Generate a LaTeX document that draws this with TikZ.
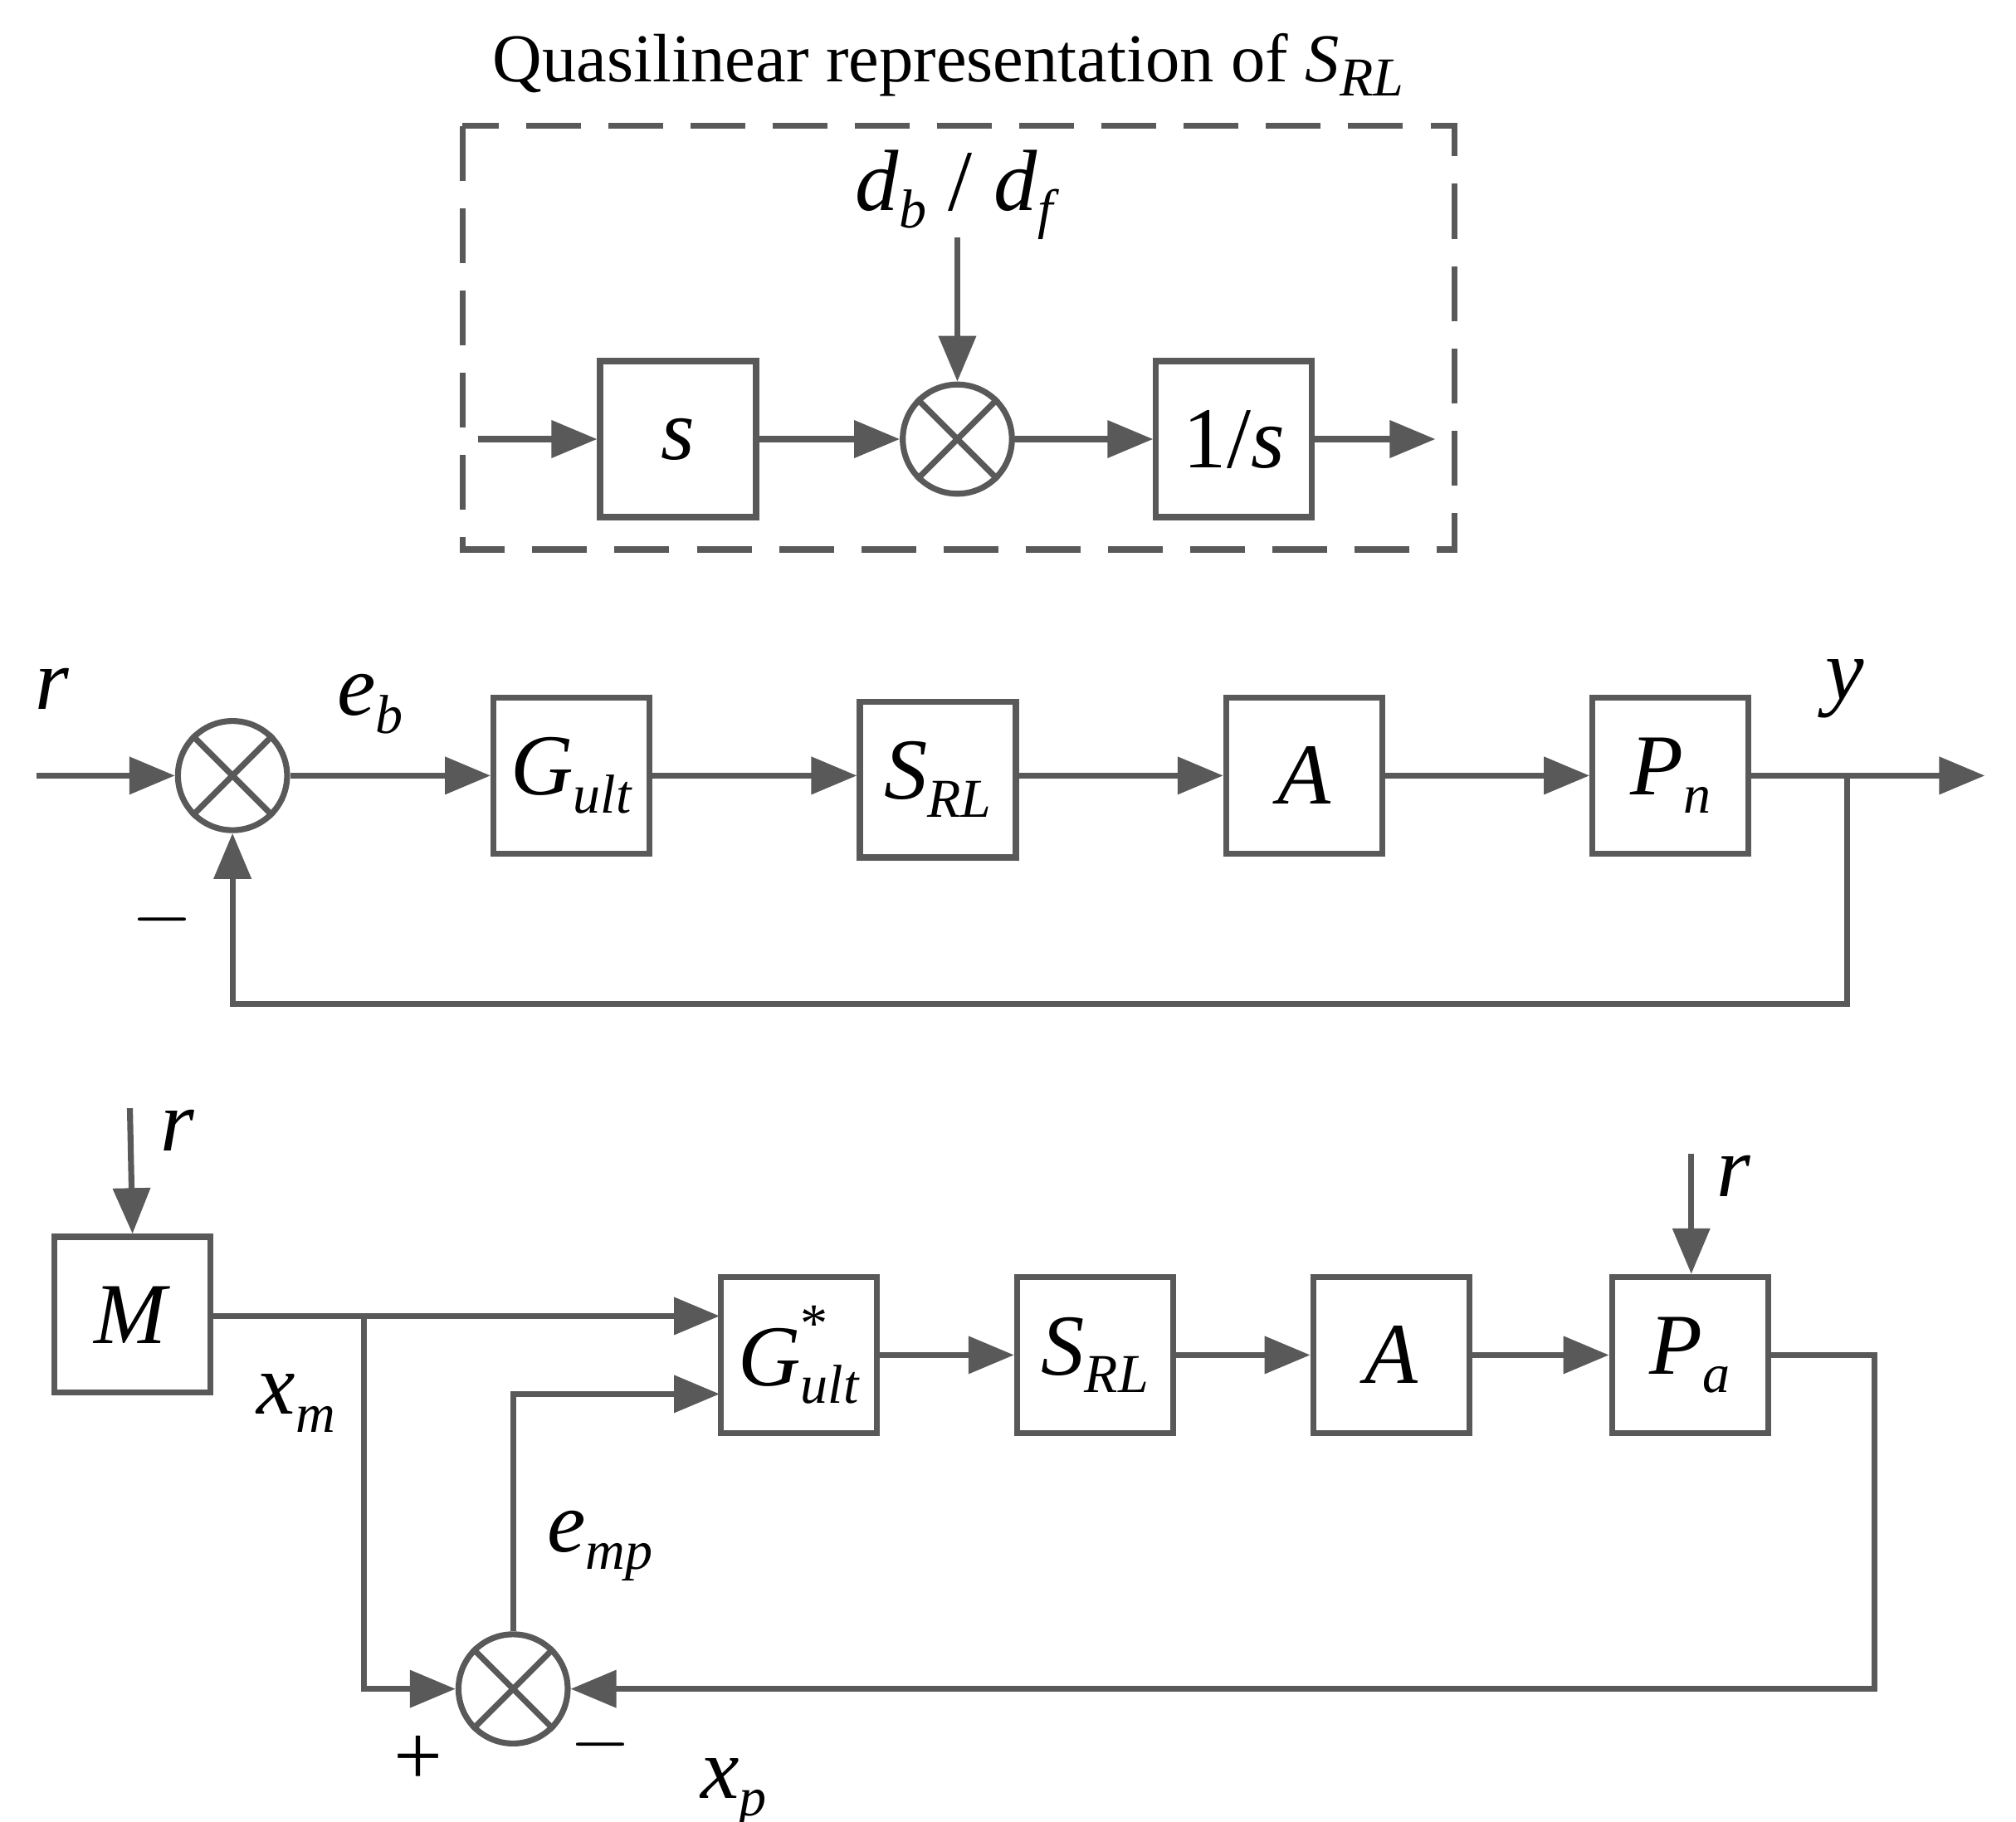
\documentclass[tikz,border=0pt]{standalone}
\usepackage{fontspec}
\setmainfont{Liberation Serif}
\usetikzlibrary{arrows.meta}
\newcommand\vsub[2]{\textit{#1}\raisebox{-0.45ex}{\fontsize{12}{12}\selectfont\textit{#2}}}
\begin{document}
\begin{tikzpicture}[x=0.01cm,y=-0.01cm,
  ln/.style={draw=black!65,line width=1.3pt},
  arr/.style={ln,-{Triangle[length=10pt,width=8pt]}},
  blk/.style={ln,rectangle,minimum width=1.2cm,minimum height=1.2cm,inner sep=0pt,font=\fontsize{19}{19}\selectfont},
  sum/.style={ln,circle,minimum size=0.84cm,inner sep=0pt},
  lbl/.style={font=\fontsize{19}{19}\selectfont}]
\useasboundingbox (0,0) rectangle (1552,1402);
% top
\draw[ln,dash pattern=on 12pt off 6pt] (356,97) rectangle (1120,423);
\node[font=\fontsize{15}{15}\selectfont] (title) at (730,50) {Quasilinear representation of \vsub{S}{RL}};
\node[lbl] (dbdf) at (737,150) {\vsub{d}{b} / \vsub{d}{f}};
\coordinate (dtop) at (737,183);
\node[blk] (s) at (522,338) {\textit{s}};
\node[sum] (c1) at (737,338) {};
\node[blk] (is) at (950,338) {1/\textit{s}};
\coordinate (qin) at (368,338);
\coordinate (qout) at (1105,338);
\draw[arr] (dtop) -- (c1.north);
\draw[arr] (qin) -- (s.west);
\draw[arr] (s.east) -- (c1.west);
\draw[arr] (c1.east) -- (is.west);
\draw[arr] (is.east) -- (qout);
% middle
\coordinate (rin) at (28,597);
\node[lbl] (r1) at (40,530) {\textit{r}};
\node[sum] (c2) at (179,597) {};
\node[lbl] (eb) at (285,542) {\vsub{e}{b}};
\node[blk] (g1) at (440,597) {\vsub{G}{ult}};
\node[blk] (s1) at (722,600) {\vsub{S}{RL}};
\node[blk] (a1) at (1004,597) {\textit{A}};
\node[blk] (p1) at (1286,597) {\vsub{P}{n}};
\node[lbl] (y) at (1420,530) {\textit{y}};
\coordinate (yout) at (1528,597);
\coordinate (br) at (1422,597);
\coordinate (fb) at (1422,773);
\node[lbl] (m1) at (125,708) {$-$};
\draw[arr] (rin) -- (c2.west);
\draw[arr] (c2.east) -- (g1.west);
\draw[arr] (g1.east) -- (s1.west|-g1.east);
\draw[arr] (s1.east|-g1.east) -- (a1.west);
\draw[arr] (a1.east) -- (p1.west);
\draw[arr] (p1.east) -- (yout);
\draw[arr] (br) -- (fb) -| (c2.south);
% bottom
\node[blk] (M) at (102,1012) {\textit{M}};
\coordinate (rM) at (100,853);
\node[lbl] (r2) at (137,870) {\textit{r}};
\node[blk] (g2) at (615,1043) {\textit{G}\rlap{\raisebox{1.1ex}{\fontsize{12}{12}\selectfont *}}\raisebox{-0.45ex}{\fontsize{12}{12}\selectfont\textit{ult}}};
\node[blk] (s2) at (843,1043) {\vsub{S}{RL}};
\node[blk] (a2) at (1071,1043) {\textit{A}};
\node[blk] (p2) at (1301,1043) {\vsub{P}{a}};
\coordinate (rP) at (1302,888);
\node[lbl] (r3) at (1335,905) {\textit{r}};
\node[sum] (c3) at (395,1300) {};
\coordinate (bx) at (280,1013);
\coordinate (g2a) at (554,1013);
\coordinate (g2b) at (554,1073);
\coordinate (pr) at (1443,1043);
\node[lbl] (xm) at (228,1080) {\vsub{x}{m}};
\node[lbl] (emp) at (462,1190) {\vsub{e}{mp}};
\node[lbl] (pl) at (322,1355) {+};
\node[lbl] (mn) at (462,1343) {$-$};
\node[lbl] (xp) at (565,1380) {\vsub{x}{p}};
\draw[arr] (rM) -- (M.north);
\draw[arr] (rP) -- (p2.north-|rP);
\draw[arr] (M.east|-g2a) -- (g2a);
\draw[arr] (bx) |- (c3.west);
\draw[arr] (c3.north) |- (g2b);
\draw[arr] (g2.east) -- (s2.west);
\draw[arr] (s2.east) -- (a2.west);
\draw[arr] (a2.east) -- (p2.west);
\draw[arr] (p2.east) -- (pr) |- (c3.east);
% crosses
\foreach \c in {c1,c2,c3}{
  \draw[ln] (\c.north west) -- (\c.south east) (\c.north east) -- (\c.south west);
}
\end{tikzpicture}
\end{document}
